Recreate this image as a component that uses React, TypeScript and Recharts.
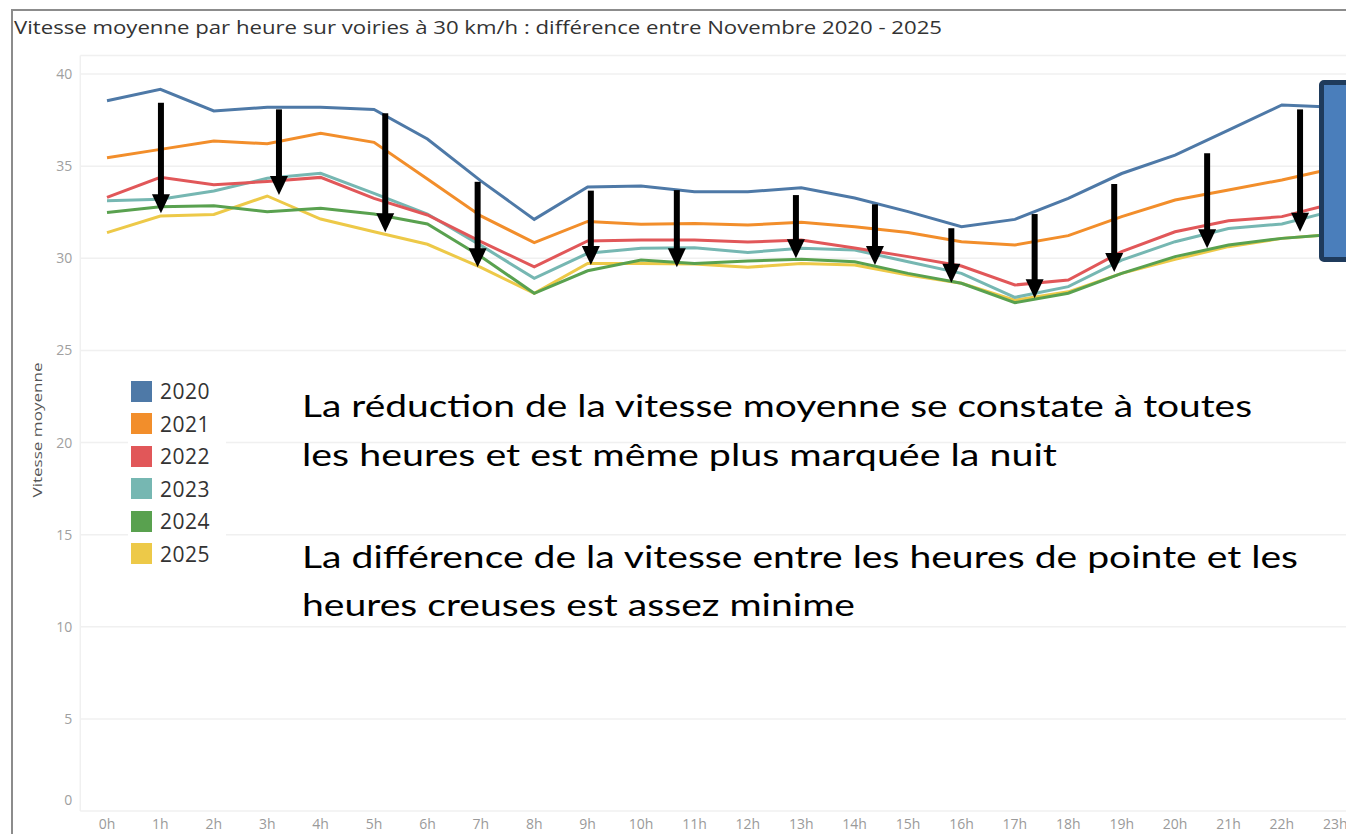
import React from 'react';
import { LineChart, Line, XAxis, YAxis, CartesianGrid, ReferenceLine } from 'recharts';

// heures de la journée
const hourLabels = [
  '0h', '1h', '2h', '3h', '4h', '5h', '6h', '7h', '8h', '9h', '10h', '11h',
  '12h', '13h', '14h', '15h', '16h', '17h', '18h', '19h', '20h', '21h', '22h', '23h',
];

const years = ['2020', '2021', '2022', '2023', '2024', '2025'];
const yearColors = ['#4e79a7', '#f28e2b', '#e15759', '#76b7b2', '#59a14f', '#edc948'];

// vitesse moyenne (km/h) par heure, novembre de chaque année
const speed2020 = [38.55, 39.17, 38.0, 38.19, 38.2, 38.08, 36.47, 34.2, 32.11, 33.87, 33.92, 33.61, 33.61, 33.83, 33.27, 32.53, 31.71, 32.11, 33.25, 34.6, 35.6, 36.96, 38.32, 38.2];
const speed2021 = [35.46, 35.91, 36.36, 36.22, 36.78, 36.29, 34.3, 32.3, 30.85, 32.0, 31.84, 31.89, 31.8, 31.95, 31.71, 31.4, 30.9, 30.72, 31.23, 32.26, 33.16, 33.7, 34.25, 34.9];
const speed2022 = [33.31, 34.39, 33.99, 34.17, 34.39, 33.25, 32.35, 30.9, 29.54, 30.94, 30.99, 30.99, 30.88, 30.99, 30.56, 30.09, 29.58, 28.55, 28.82, 30.36, 31.44, 32.04, 32.26, 33.0];
const speed2023 = [33.12, 33.2, 33.65, 34.34, 34.61, 33.52, 32.4, 30.7, 28.91, 30.27, 30.54, 30.57, 30.32, 30.54, 30.45, 29.81, 29.18, 27.88, 28.46, 29.9, 30.9, 31.62, 31.86, 32.6];
const speed2024 = [32.49, 32.8, 32.85, 32.53, 32.71, 32.4, 31.86, 30.1, 28.1, 29.32, 29.9, 29.72, 29.85, 29.94, 29.81, 29.18, 28.64, 27.59, 28.1, 29.18, 30.09, 30.72, 31.08, 31.3];
const speed2025 = [31.39, 32.29, 32.38, 33.38, 32.13, 31.44, 30.76, 29.5, 28.1, 29.72, 29.72, 29.69, 29.51, 29.72, 29.63, 29.09, 28.64, 27.73, 28.18, 29.18, 29.94, 30.63, 31.08, 31.3];

const yTicks = [0, 5, 10, 15, 20, 25, 30, 35, 40];

// flèches d'annotation : position horaire, valeur de départ, valeur d'arrivée
const arrowHours = [1.01, 3.22, 5.21, 6.94, 9.06, 10.67, 12.9, 14.38, 15.81, 17.37, 18.86, 20.6, 22.34];
const arrowFrom = [38.44, 38.08, 37.87, 34.15, 33.67, 33.7, 33.43, 32.93, 31.63, 32.4, 34.03, 35.7, 38.08];
const arrowTo = [32.44, 33.43, 31.41, 29.51, 29.63, 29.51, 30.0, 29.63, 28.67, 27.83, 29.25, 30.54, 31.44];

const allSeries = [speed2020, speed2021, speed2022, speed2023, speed2024, speed2025];

const data = hourLabels.map((label, i) => {
  const row: Record<string, number | string> = { hour: i, label };
  years.forEach((y, k) => {
    row[y] = allSeries[k][i];
  });
  return row;
});

const Arrow = (props: any) => {
  const { x1, y1, x2, y2 } = props;
  const headH = 19;
  const half = 9;
  return (
    <g>
      <line x1={x1} y1={y1} x2={x2} y2={y2 - headH + 2} stroke="#000" strokeWidth={6} />
      <polygon points={`${x2 - half},${y2 - headH} ${x2 + half},${y2 - headH} ${x2},${y2}`} fill="#000" />
    </g>
  );
};

const YTick = (props: any) => {
  const { x, y, payload } = props;
  // Tableau remonte le libellé du zéro
  const ty = payload.value === 0 ? y - 11 : y;
  return (
    <text x={x} y={ty} dy={5} textAnchor="end" fill="#a0a0a0" fontSize={14} fontFamily="Open Sans">
      {payload.value}
    </text>
  );
};

const annotation = [
  { text: 'La réduction de la vitesse moyenne se constate à toutes', y: 417, w: 950 },
  { text: 'les heures et est même plus marquée la nuit', y: 466, w: 755 },
  { text: 'La différence de la vitesse entre les heures de pointe et les', y: 568, w: 996 },
  { text: 'heures creuses est assez minime', y: 616, w: 553 },
];

export default function App() {
  return (
    <div
      style={{
        position: 'fixed',
        left: 0,
        top: 0,
        width: 1346,
        height: 834,
        overflow: 'hidden',
        background: '#fff',
        fontFamily: 'Open Sans, sans-serif',
      }}
    >
      <div style={{ position: 'absolute', left: 0, top: 0 }}>
        <LineChart
          width={1362}
          height={834}
          data={data}
          margin={{ top: 55.6, right: 0, bottom: 0, left: 0 }}
        >
          <CartesianGrid vertical={false} stroke="#f0f0f0" strokeWidth={1.5} />
          <XAxis
            dataKey="hour"
            type="number"
            domain={[-0.5, 23.5]}
            ticks={hourLabels.map((_, i) => i)}
            tickFormatter={(v: number) => hourLabels[v]}
            axisLine={false}
            tickLine={false}
            tickSize={6}
            tickMargin={2}
            height={23}
            interval={0}
            tick={{ fill: '#9a9a9a', fontSize: 14, fontFamily: 'Open Sans' }}
          />
          <YAxis
            type="number"
            domain={[0, 41]}
            ticks={yTicks}
            width={80.3}
            axisLine={false}
            tickLine={false}
            tickSize={0}
            tickMargin={8}
            tick={<YTick />}
          />
          <ReferenceLine x={-0.5} stroke="#f0f0f0" strokeWidth={1.5} />
          {years
            .map((y, k) => (
              <Line
                key={y}
                dataKey={y}
                type="linear"
                stroke={yearColors[k]}
                strokeWidth={3}
                dot={false}
                activeDot={false}
                isAnimationActive={false}
              />
            ))
            .reverse()}
          {arrowHours.map((h, i) => (
            <ReferenceLine
              key={'arrow' + i}
              segment={[
                { x: h, y: arrowFrom[i] },
                { x: h, y: arrowTo[i] },
              ]}
              shape={Arrow}
            />
          ))}
        </LineChart>
      </div>

      {/* cadre */}
      <div style={{ position: 'absolute', left: 11, top: 9, width: 2, height: 825, background: '#8c8c8c' }} />
      <div style={{ position: 'absolute', left: 11, top: 9, width: 1335, height: 2, background: '#8c8c8c' }} />

      <svg width={1346} height={834} style={{ position: 'absolute', left: 0, top: 0, pointerEvents: 'none' }}>
        <text x={14} y={34} fontSize={18.5} fill="#333" fontFamily="Open Sans" textLength={928} lengthAdjust="spacingAndGlyphs">
          Vitesse moyenne par heure sur voiries à 30 km/h : différence entre Novembre 2020 - 2025
        </text>
        <text
          x={0}
          y={0}
          transform="translate(42 430) rotate(-90)"
          textAnchor="middle"
          fontSize={13}
          fill="#555"
          fontFamily="Open Sans"
          textLength={135}
          lengthAdjust="spacingAndGlyphs"
        >
          Vitesse moyenne
        </text>
        {annotation.map((a) => (
          <text
            key={a.text}
            x={302}
            y={a.y}
            fontSize={31}
            fill="#000"
            fontFamily="Lato"
            textLength={a.w}
            lengthAdjust="spacingAndGlyphs"
          >
            {a.text}
          </text>
        ))}
      </svg>

      {/* légende */}
      <div
        style={{
          position: 'absolute',
          left: 128,
          top: 373,
          width: 98,
          height: 198,
          background: '#fff',
        }}
      >
        {years.map((y, k) => (
          <div
            key={y}
            style={{ position: 'absolute', left: 3, top: 7 + k * 32.5, height: 22, display: 'flex', alignItems: 'center' }}
          >
            <div style={{ width: 21, height: 21, background: yearColors[k] }} />
            <span style={{ marginLeft: 8, fontSize: 21, color: '#333', lineHeight: '22px', letterSpacing: 0.5 }}>{y}</span>
          </div>
        ))}
      </div>

      {/* encadré coupé à droite */}
      <div
        style={{
          position: 'absolute',
          left: 1319,
          top: 80,
          width: 60,
          height: 182,
          boxSizing: 'border-box',
          background: '#4a7ebb',
          border: '5px solid #1f3b5c',
          borderRadius: 5,
        }}
      />
    </div>
  );
}
